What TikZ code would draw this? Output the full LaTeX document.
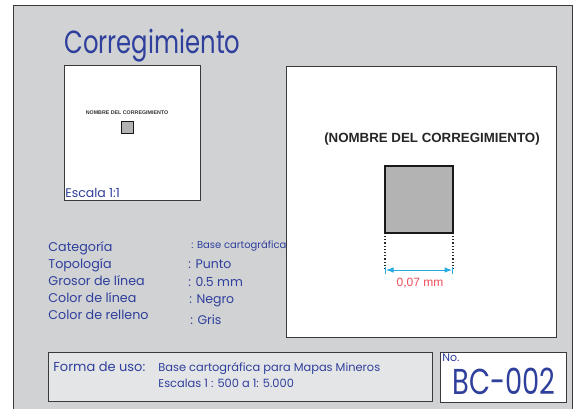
\documentclass[tikz,border=0pt]{standalone}
\usepackage{fontspec}
\setmainfont{Poppins}
\newfontfamily\angosta[FakeStretch=0.76]{Poppins}
\newfontfamily\arialfont{Liberation Sans}
\usetikzlibrary{arrows.meta}

\definecolor{fondo}{HTML}{D1D2D4}
\definecolor{panel}{HTML}{E4E5E7}
\definecolor{azul}{HTML}{2E3F9C}
\definecolor{borde}{HTML}{3A3A3C}
\definecolor{relleno}{HTML}{B3B3B3}
\definecolor{celeste}{HTML}{29ABE2}
\definecolor{rojo}{HTML}{EE4D5C}

\tikzset{
    marco/.style = {draw = borde, line width = 0.8pt},
    texto/.style = {anchor = base west, inner sep = 0pt, text = azul},
    muestra/.style = {draw = black!90, fill = relleno}
}

\begin{document}
\begin{tikzpicture}[%
        x = 1pt,
        y = -1pt,
        > = Latex,
        line width = 0.8pt
    ]

        \useasboundingbox (0, 0) rectangle (575, 409);

        % Corners of the card and of its boxes.
        \coordinate (F1) at (13, 5);
        \coordinate (F2) at (572, 420);
        \coordinate (P1) at (64, 65);
        \coordinate (P2) at (200, 200);
        \coordinate (G1) at (286, 66);
        \coordinate (G2) at (556, 337);
        \coordinate (U1) at (48, 352);
        \coordinate (U2) at (432, 401);
        \coordinate (N1) at (440, 352);
        \coordinate (N2) at (566, 402);

        % Card background and boxes.
        \draw[marco, fill = fondo] (F1) rectangle (F2);
        \draw[marco, fill = white] (P1) rectangle (P2);
        \draw[marco, fill = panel] (U1) rectangle (U2);
        \draw[marco, fill = white] (N1) rectangle (N2);

        % Title.
        \node[texto, font = \angosta\fontsize{32}{32}\selectfont] (titulo) at (64, 54) {Corregimiento};

        % Preview at scale 1:1.
        \node[font = \arialfont\bfseries\fontsize{5.3}{6}\selectfont, text = black!80, inner sep = 0pt]
            (nombreMini) at (127, 113) {NOMBRE DEL CORREGIMIENTO};
        \draw[muestra, line width = 0.9pt] (121, 121) rectangle (133, 133);
        \node[texto, font = \fontsize{12.5}{13}\selectfont] (escala) at (65, 197) {Escala 1:1};

        % Properties of the symbol.
        \foreach \i/\y/\etiqueta in {1/251/Categoría, 2/268/Topología, 3/285/Grosor de línea,
                                      4/302/Color de línea, 5/319/Color de relleno}{
            \node[texto, font = \fontsize{12.7}{13}\selectfont] (etiq\i) at (48, \y) {\etiqueta};
        }
        \node[texto, font = \fontsize{10}{11}\selectfont] (valor1) at (191, 248) {: Base cartográfica};
        \node[texto, font = \fontsize{12.5}{13}\selectfont] (valor2) at (188, 268) {: Punto};
        \node[texto, font = \fontsize{12.5}{13}\selectfont] (valor3) at (188, 286) {: 0.5 mm};
        \node[texto, font = \fontsize{12.5}{13}\selectfont] (valor4) at (189, 303) {: Negro};
        \node[texto, font = \fontsize{12.5}{13}\selectfont] (valor5) at (190, 324) {: Gris};

        % Symbol at full size.
        \draw[marco, fill = white] (G1) rectangle (G2);
        \node[font = \arialfont\bfseries\fontsize{13.3}{14}\selectfont, text = black!85]
            (nombre) at (432, 139) {(NOMBRE DEL CORREGIMIENTO)};
        \coordinate (A) at (385, 166);
        \coordinate (B) at (453, 233);
        \draw[muestra, line width = 2.2pt] (A) rectangle (B);

        % Width of the symbol.
        \coordinate (D1) at (385, 236);
        \coordinate (D2) at (453, 236);
        \coordinate (E1) at (385, 270);
        \coordinate (E2) at (453, 270);
        \draw[dotted, line width = 1.2pt, black!85] (D1) to (E1);
        \draw[dotted, line width = 1.2pt, black!85] (D2) to (E2);
        \draw[|<->|, celeste, line width = 1pt] (E1) to (E2);
        \node[font = \arialfont\fontsize{12}{12}\selectfont, text = rojo]
            (medida) at (420, 283) {0,07 mm};

        % Use and code.
        \node[texto, font = \fontsize{13}{14}\selectfont] (forma) at (53, 371) {Forma de uso:};
        \node[texto, font = \fontsize{11.4}{12}\selectfont] (uso1) at (158, 371) {Base cartográfica para Mapas Mineros};
        \node[texto, font = \fontsize{11.4}{12}\selectfont] (uso2) at (158, 387) {Escalas 1 : 500 a 1: 5.000};
        \node[texto, font = \fontsize{11}{12}\selectfont] (no) at (442, 361) {No.};
        \node[texto, font = \angosta\fontsize{36}{36}\selectfont] (codigo) at (452, 394) {BC-002};
    \end{tikzpicture}
\end{document}
